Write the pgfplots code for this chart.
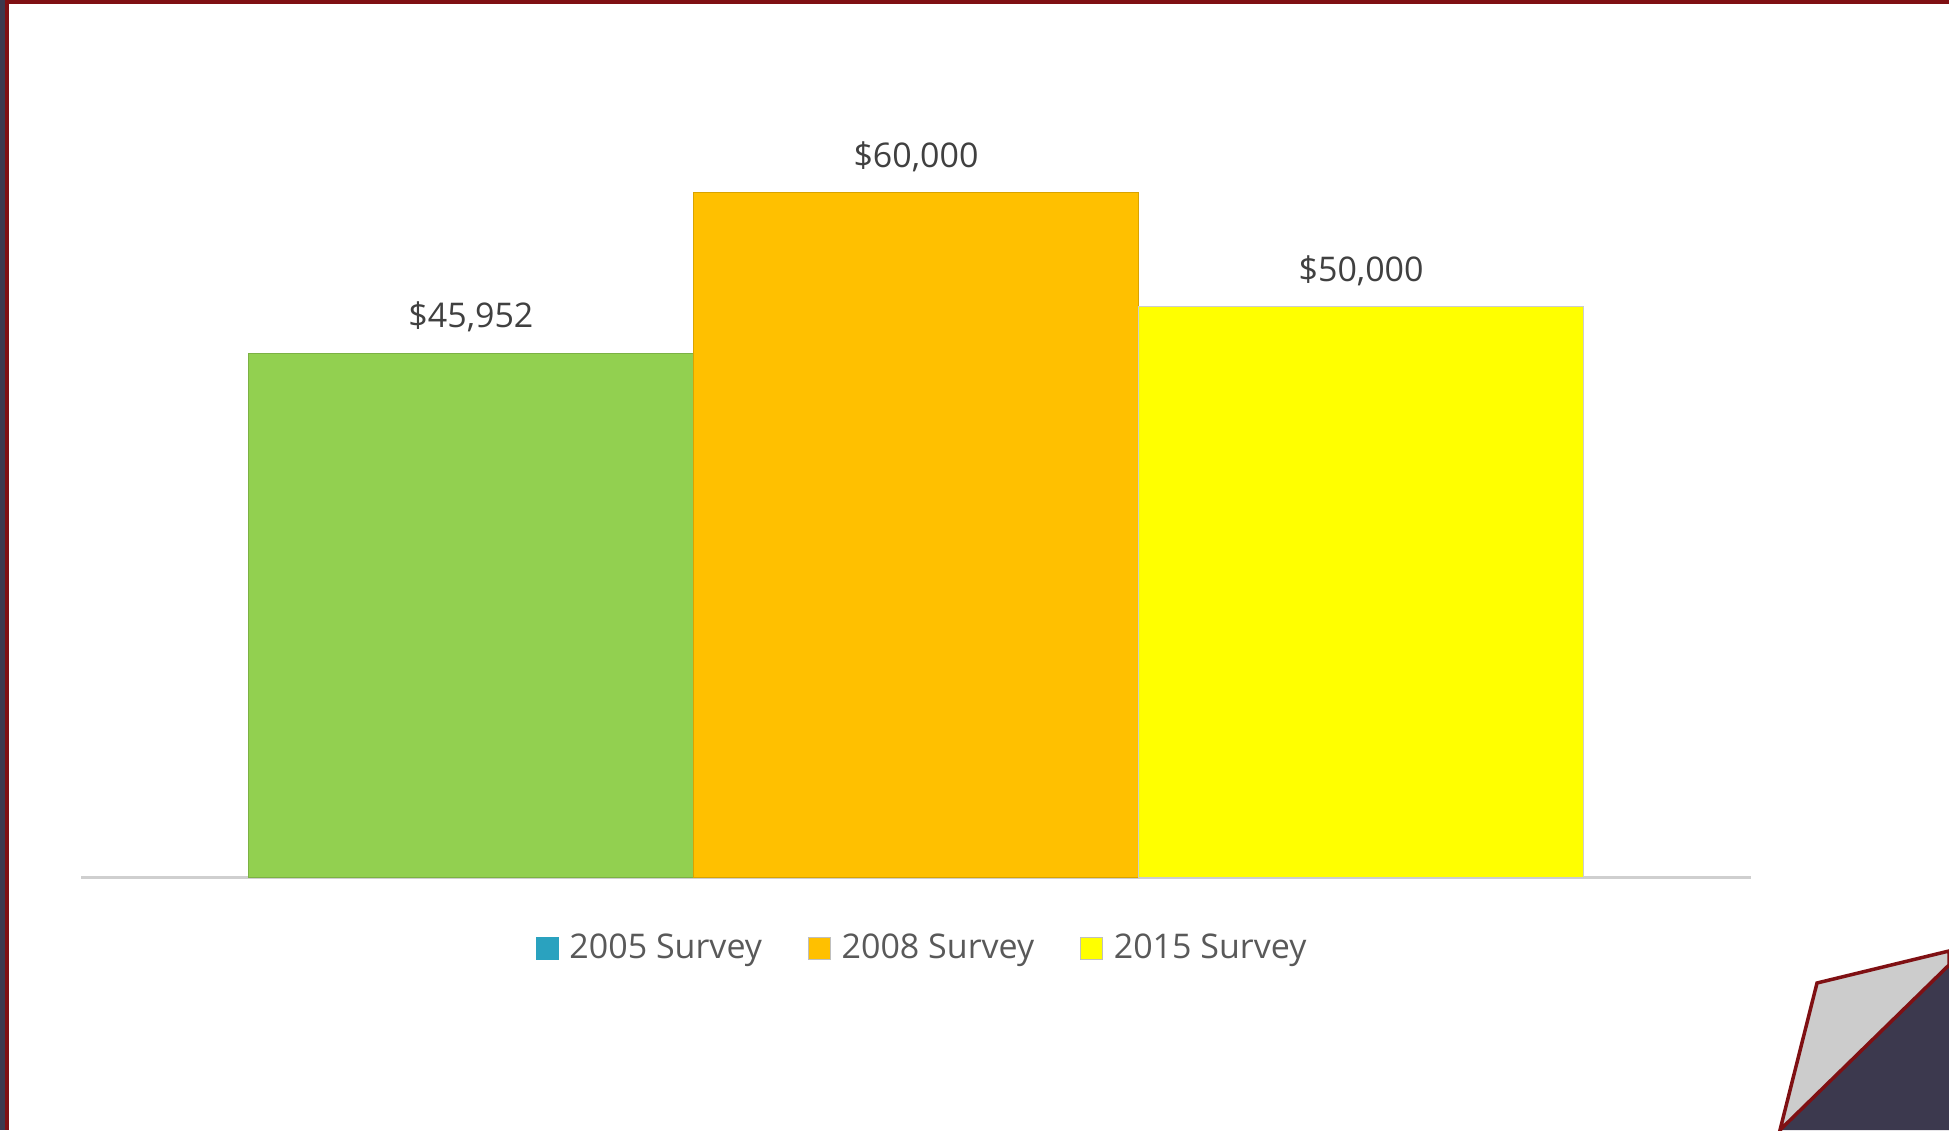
\documentclass[border=0pt]{standalone}
\usepackage{fontspec}
\setmainfont{Open Sans}
\usepackage{pgfplots}
\pgfplotsset{compat=1.18}

\definecolor{c2005}{HTML}{2AA2BF}
\definecolor{cgreen}{HTML}{92D050}
\definecolor{corange}{HTML}{FFC000}
\definecolor{cyellow}{HTML}{FFFF00}
\definecolor{framered}{HTML}{7F1013}
\definecolor{navy}{HTML}{3C394E}
\definecolor{labelgrey}{HTML}{404040}
\definecolor{legendgrey}{HTML}{595959}
\definecolor{curl}{HTML}{CCCCCC}
\definecolor{baseline}{HTML}{CFCFCF}

\begin{document}
\begin{tikzpicture}
% 1 px of the reference = 0.5pt
\path[use as bounding box] (0,0) rectangle (974.5pt,565pt);

\begin{axis}[
    at={(40.5pt,126.2pt)}, anchor=south west,
    scale only axis,
    width=835pt, height=399.6pt,
    xmin=-0.876, xmax=2.876,
    ymin=0, ymax=70000,
    axis x line*=bottom,
    axis y line=none,
    x axis line style={draw=baseline, line width=1.6pt, -},
    xtick=\empty, ytick=\empty,
    ybar, bar width=1,
    point meta=explicit symbolic,
    nodes near coords,
    every node near coord/.append style={
        font=\fontsize{17}{20}\selectfont, text=labelgrey,
        anchor=south, inner sep=0pt, text depth=0pt, yshift=12.5pt},
    legend columns=3,
    legend style={
        at={(0.503,-0.088)}, anchor=center,
        draw=none, fill=none,
        font=\fontsize{17}{20}\selectfont, text=legendgrey,
        nodes={inner sep=0pt},
        /tikz/every odd column/.append style={column sep=5.5pt},
        /tikz/every even column/.append style={column sep=23pt},
    },
]

\addplot[fill=cgreen, draw=cgreen!85!black, line width=0.4pt, bar shift=0pt, forget plot]
    coordinates {(0,45952) [\$45,952]};
\addplot[fill=corange, draw=corange!85!black, line width=0.4pt, bar shift=0pt, forget plot]
    coordinates {(1,60000) [\$60,000]};
\addplot[fill=cyellow, draw=black!20, line width=0.4pt, bar shift=0pt, forget plot]
    coordinates {(2,50000) [\$50,000]};

\addlegendimage{legend image code/.code={\fill[c2005] (0pt,-5.5pt) rectangle (11pt,5.5pt);}}
\addlegendentry{2005 Survey}
\addlegendimage{legend image code/.code={\fill[corange, draw=black!25, line width=0.3pt] (0pt,-5.5pt) rectangle (11pt,5.5pt);}}
\addlegendentry{2008 Survey}
\addlegendimage{legend image code/.code={\fill[cyellow, draw=black!25, line width=0.3pt] (0pt,-5.5pt) rectangle (11pt,5.5pt);}}
\addlegendentry{2015 Survey}
\end{axis}

% slide frame and corner curl (reference pixel coordinates)
\begin{scope}[x=0.5pt, y=-0.5pt, shift={(0,565pt)}]
  \fill[navy] (0,0) rectangle (5,1130);
  \fill[framered] (5,0) rectangle (9,1130);
  \fill[framered] (5,0) rectangle (1949,4);
  \fill[navy] (1780,1130) -- (1949,965) -- (1949,1130) -- cycle;
  \filldraw[fill=curl, draw=framered, line width=1.75pt, line join=miter]
    (1780,1130) -- (1817,983) -- (1949,951) -- (1949,965) -- cycle;
\end{scope}
\end{tikzpicture}
\end{document}
